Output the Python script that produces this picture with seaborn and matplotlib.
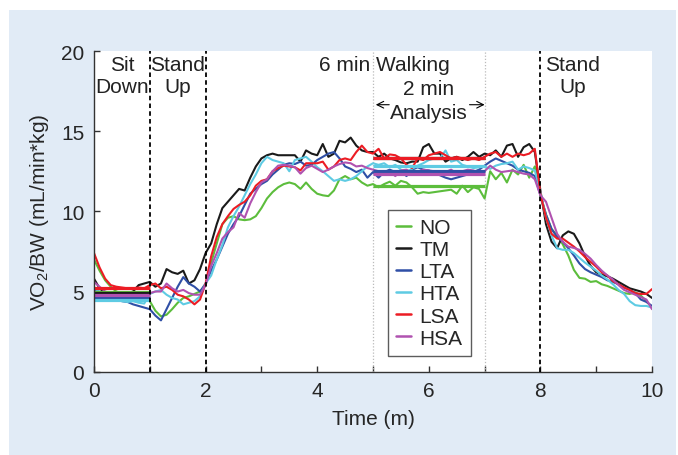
import numpy as np
import pandas as pd
import matplotlib
matplotlib.use("Agg")
import matplotlib.pyplot as plt
import seaborn as sns
from matplotlib.patches import Rectangle

# ---------------- data ----------------
time_min = [round(0.1 * i, 1) for i in range(101)]

series_names = ["NO", "TM", "LTA", "HTA", "LSA", "HSA"]
series_colors = ["#5cbd3c", "#1a1a1a", "#2f4fa6", "#5ecbe3", "#ec1c24", "#b052b0"]

vo2_NO = [7.0, 6.3, 5.7, 5.3, 5.0, 4.9, 4.85, 4.8, 4.8, 4.7,
          4.4, 3.8, 3.45, 3.55, 3.9, 4.3, 4.6, 4.7, 4.85, 5.0,
          5.4, 6.8, 8.0, 9.2, 9.6, 9.7, 9.5, 9.45, 9.5, 9.7,
          10.2, 10.8, 11.2, 11.5, 11.7, 11.8, 11.7, 11.4, 11.8, 11.4,
          11.1, 11.0, 10.95, 11.3, 12.0, 12.2, 12.0, 12.1, 11.8, 11.6,
          11.7, 11.5, 11.7, 11.85, 11.6, 11.9, 11.8, 11.5, 11.1, 11.2,
          11.15, 11.2, 11.25, 11.3, 11.35, 11.1, 11.6, 11.2, 11.5, 11.4,
          10.8, 12.5, 12.0, 12.4, 11.8, 12.6, 12.3, 12.9, 12.1, 12.8,
          11.0, 9.8, 8.9, 8.5, 7.95, 7.25, 6.35, 5.85, 5.8, 5.6,
          5.65, 5.45, 5.35, 5.2, 5.05, 4.9, 4.85, 4.95, 4.75, 4.4,
          4.0]
vo2_TM = [5.8, 5.2, 4.9, 4.9, 4.9, 4.85, 4.9, 5.0, 5.4, 5.5,
          5.6, 5.3, 5.5, 6.4, 6.2, 6.1, 6.3, 5.5, 5.7, 6.4,
          7.4, 8.0, 9.2, 10.2, 10.6, 11.0, 11.4, 11.3, 12.1, 12.8,
          13.3, 13.5, 13.6, 13.5, 13.5, 13.5, 13.5, 13.1, 13.8, 13.6,
          13.5, 14.2, 13.4, 13.6, 14.4, 14.3, 14.6, 14.1, 13.8, 13.7,
          13.7, 13.4, 13.6, 13.3, 13.2, 13.05, 13.0, 13.1, 13.1, 14.0,
          14.2, 13.6, 13.6, 13.1, 13.3, 13.4, 13.2, 13.4, 13.7, 13.4,
          13.6, 13.5, 13.8, 13.4, 14.1, 14.2, 13.4, 14.0, 14.2, 13.7,
          11.3, 9.2, 8.1, 7.7, 8.5, 8.75, 8.6, 8.0, 7.2, 6.6,
          6.2, 6.05, 5.95, 5.8, 5.6, 5.4, 5.2, 5.1, 5.0, 4.85,
          4.6]
vo2_LTA = [5.1, 4.9, 4.7, 4.6, 4.5, 4.4, 4.35, 4.2, 4.1, 4.0,
           3.9, 3.5, 3.2, 3.9, 4.6, 5.3, 5.9, 5.5, 5.3, 5.0,
           5.5, 6.3, 7.0, 7.8, 8.6, 9.2, 9.7, 10.4, 11.1, 11.4,
           11.7, 11.9, 12.3, 12.6, 12.9, 13.0, 12.95, 13.1, 12.85, 12.9,
           13.2, 13.4, 13.6, 13.7, 13.3, 12.8, 12.65, 12.45, 12.6, 12.1,
           12.45, 12.1, 12.45, 12.6, 12.45, 12.55, 12.2, 12.6, 12.75, 12.6,
           12.55, 12.4, 12.25, 12.1, 12.0, 12.1, 12.2, 12.3, 12.45, 12.6,
           12.85, 13.1, 13.3, 13.15, 13.0, 12.85, 12.6, 12.5, 12.4, 12.2,
           11.0, 9.8, 8.9, 8.4, 8.1, 7.7, 7.25, 6.75, 6.4, 6.2,
           6.05, 5.9, 5.7, 5.6, 5.45, 5.25, 5.1, 4.9, 4.5, 4.35,
           4.1]
vo2_HTA = [5.2, 5.0, 4.7, 4.6, 4.5, 4.4, 4.35, 4.4, 4.3, 4.25,
           4.85, 5.0, 5.1, 4.8, 4.6, 4.5, 4.2, 4.3, 4.4, 4.7,
           5.5, 6.0, 7.0, 7.9, 9.0, 9.7, 10.3, 11.0, 11.7, 12.3,
           13.0, 13.4, 13.2, 13.1, 13.0, 12.5, 13.2, 13.3, 13.4, 13.1,
           12.75, 12.5, 12.2, 11.9, 12.0, 11.9, 12.0, 12.2, 12.5, 12.8,
           13.0, 12.9, 13.0, 12.75, 12.9, 12.6, 12.45, 12.65, 12.85, 13.0,
           13.2, 13.3, 13.3, 13.8, 13.1, 13.2, 12.9, 12.8, 12.7, 12.75,
           12.8, 12.65, 12.85, 12.95, 13.0, 13.1, 12.6, 12.8, 12.7, 12.55,
           11.2, 9.6, 8.5, 7.7, 7.6, 7.6, 7.4, 7.1, 6.8, 6.55,
           6.3, 6.0, 5.75, 5.45, 5.1, 4.85, 4.4, 4.15, 4.1, 4.1,
           4.0]
vo2_LSA = [7.4, 6.5, 5.8, 5.4, 5.3, 5.25, 5.2, 5.2, 5.25, 5.2,
           5.4, 5.5, 5.2, 5.3, 5.1, 4.8, 4.7, 4.5, 4.2, 4.5,
           5.5, 7.2, 8.4, 9.2, 9.7, 10.15, 10.4, 10.6, 11.0, 11.6,
           11.9, 12.0, 12.5, 12.7, 12.85, 12.8, 12.75, 12.55, 13.0, 13.0,
           13.0, 13.1, 12.6, 12.8, 13.2, 13.3, 13.2, 13.7, 14.1, 13.7,
           13.6, 13.9, 13.3, 13.55, 13.5, 13.3, 12.9, 12.7, 13.3, 13.2,
           13.5, 13.6, 13.7, 13.5, 13.3, 13.4, 13.3, 13.2, 13.3, 13.2,
           13.4, 13.6, 13.7, 13.4, 13.6, 13.4, 13.6, 13.5, 13.6, 13.9,
           11.1, 9.6, 8.6, 8.3, 8.3, 8.05, 7.8, 7.5, 7.15, 6.85,
           6.55, 6.2, 6.0, 5.65, 5.45, 5.25, 5.1, 4.9, 4.85, 4.85,
           5.15]
vo2_HSA = [5.6, 5.3, 5.0, 4.9, 4.9, 4.85, 4.8, 4.85, 4.8, 4.85,
           4.9, 5.0, 5.0, 5.5, 5.2, 5.0, 5.1, 4.9, 4.8, 4.8,
           5.4, 6.6, 7.4, 8.3, 8.7, 9.0, 9.9, 9.6, 10.5, 11.2,
           11.8, 12.0, 12.5, 12.85, 12.9, 12.85, 12.75, 12.35, 12.7, 12.85,
           12.65, 12.45, 12.6, 12.8, 12.95, 13.05, 13.0, 12.8, 12.85, 12.7,
           12.6, 12.5, 12.45, 12.5, 12.2, 12.55, 12.6, 12.4, 12.45, 12.6,
           12.55, 12.5, 12.4, 12.45, 12.6, 12.35, 12.5, 12.6, 12.55, 12.4,
           12.5, 12.85, 12.6, 12.45, 12.5, 12.55, 12.45, 12.35, 12.3, 12.0,
           11.0, 10.6, 9.6, 8.6, 8.1, 7.8, 7.72, 7.6, 7.35, 7.05,
           6.65, 6.3, 6.0, 5.75, 5.4, 5.1, 4.95, 4.8, 4.65, 4.5,
           3.9]

# mean levels
sit_mean = [4.95, 4.9, 4.65, 4.45, 5.2, 4.8]          # over 0-1 min
walk_mean = [11.55, 13.35, 12.5, 12.85, 13.35, 12.3]  # over 5-7 min

phase_bounds = [1, 2, 8]
analysis_bounds = [5, 7]
x_ticks = list(range(0, 11))
x_ticklabels = ["0", "", "2", "", "4", "", "6", "", "8", "", "10"]
y_ticks = [0, 5, 10, 15, 20]

# ---------------- style ----------------
sns.set_theme(style="white")
plt.rcParams["font.family"] = ["Liberation Sans", "DejaVu Sans"]
plt.rcParams["mathtext.fontset"] = "custom"
plt.rcParams["mathtext.rm"] = "Liberation Sans"
FS = 15

all_vals = [vo2_NO, vo2_TM, vo2_LTA, vo2_HTA, vo2_LSA, vo2_HSA]
df = pd.concat([pd.DataFrame({"Time": time_min, "VO2": v, "Condition": n})
                for n, v in zip(series_names, all_vals)], ignore_index=True)
palette = dict(zip(series_names, series_colors))

fig = plt.figure(figsize=(6.78, 4.56), dpi=100, facecolor="white")
fig.patches.append(Rectangle((9 / 678, 0), (676 - 9) / 678, 1 - 11 / 456,
                             transform=fig.transFigure, facecolor="#e1ebf6",
                             edgecolor="none", zorder=-10))
ax = fig.add_axes([94 / 678, 1 - 372.7 / 456, 558 / 678, 320.7 / 456])
ax.set_facecolor("white")

sns.lineplot(data=df, x="Time", y="VO2", hue="Condition", palette=palette,
             hue_order=series_names, linewidth=1.5, ax=ax, legend=False)

for name, c, m1, m2 in zip(series_names, series_colors, sit_mean, walk_mean):
    ax.hlines(m1, 0, 1, color=c, linewidth=2.3, zorder=2)
    ax.hlines(m2, analysis_bounds[0], analysis_bounds[1], color=c, linewidth=2.3, zorder=2)

for xb in phase_bounds:
    ax.axvline(xb, color="black", linestyle=(0, (2.5, 1.8)), linewidth=1.3, zorder=3)
for xb in analysis_bounds:
    ax.axvline(xb, color="#bbbbbb", linestyle=(0, (1, 1.5)), linewidth=0.9, zorder=1)

ax.set_xlim(0, 10)
ax.set_ylim(0, 20)
ax.set_xticks(x_ticks)
ax.set_xticklabels(x_ticklabels)
ax.set_yticks(y_ticks)
ax.tick_params(direction="in", length=4, width=1, labelsize=FS, color="#333333",
               pad=7, bottom=True, left=True)
for s in ["top", "right"]:
    ax.spines[s].set_visible(False)
for s in ["left", "bottom"]:
    ax.spines[s].set_color("#333333")
    ax.spines[s].set_linewidth(1.0)

ax.set_xlabel("Time (m)", fontsize=FS, labelpad=6)
ax.set_ylabel(r"VO$_2$/BW (mL/min*kg)", fontsize=FS, labelpad=7)

txt_kw = dict(ha="center", va="top", fontsize=FS, linespacing=1.2, color="#222222")
ax.text(0.5, 19.75, "Sit\nDown", **txt_kw)
ax.text(1.5, 19.75, "Stand\nUp", **txt_kw)
ax.text(8.57, 19.75, "Stand\nUp", **txt_kw)
ax.text(5.2, 19.75, "6 min Walking", **txt_kw)
ax.text(6.0, 18.25, "2 min", **txt_kw)
ax.text(6.0, 16.75, "Analysis", **txt_kw)
ax.annotate("", xy=(5.0, 16.65), xytext=(5.34, 16.65),
            arrowprops=dict(arrowstyle="->", color="black", lw=0.8))
ax.annotate("", xy=(7.05, 16.65), xytext=(6.68, 16.65),
            arrowprops=dict(arrowstyle="->", color="black", lw=0.8))

handles = [plt.Line2D([], [], color=c, linewidth=1.8) for c in series_colors]
leg = ax.legend(handles, series_names, loc="upper left", bbox_to_anchor=(0.527, 0.505),
                borderaxespad=0, fontsize=FS, handlelength=0.7, handletextpad=0.4,
                labelspacing=0.15, frameon=True, fancybox=False, borderpad=0.4)
leg.get_frame().set_edgecolor("#333333")
leg.get_frame().set_linewidth(1.0)

fig.savefig("out.png", dpi=100, facecolor=fig.get_facecolor())
